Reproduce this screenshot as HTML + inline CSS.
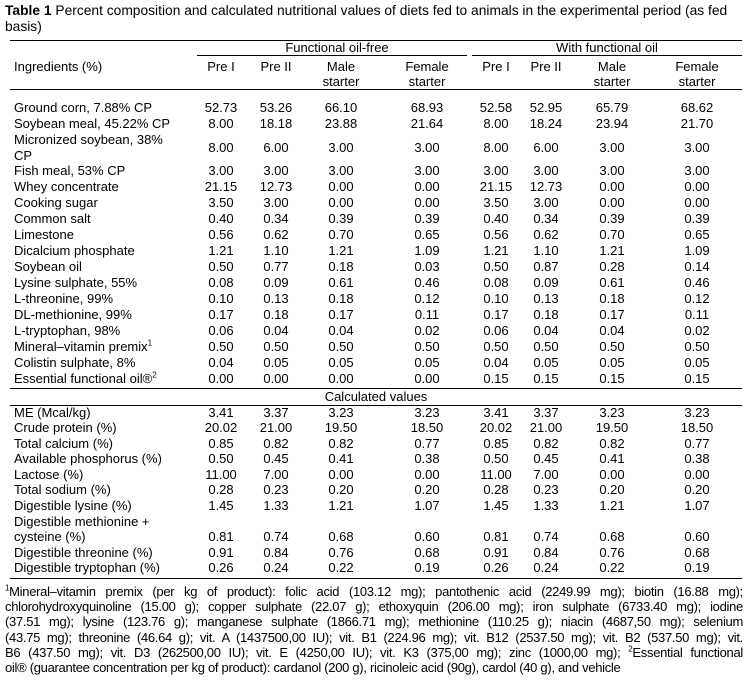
<!DOCTYPE html>
<html><head><meta charset="utf-8">
<style>
body{margin:0;width:753px;height:688px;background:#fff;font-family:"Liberation Sans",Arial,sans-serif;color:#000;position:relative;overflow:hidden}
.t{position:absolute;font-size:13px;line-height:16px;white-space:nowrap}
.c{transform:translateX(-50%);text-align:center}
.rule{position:absolute;height:1px;background:#000}
#title{position:absolute;left:5px;top:3px;width:745px;font-size:13.8px;line-height:16px}
#foot{position:absolute;left:5px;top:584px;width:738px;font-size:13px;line-height:15.2px;letter-spacing:-0.3px}
#foot div{text-align:justify;text-align-last:justify;white-space:nowrap}
#foot div.last{text-align-last:left}
sup{font-size:8px;line-height:0}
</style></head><body>
<div id="title"><b>Table 1</b> Percent composition and calculated nutritional values of diets fed to animals in the experimental period (as fed basis)</div>
<div class="rule" style="left:10px;top:40px;width:732px"></div>
<div class="rule" style="left:197px;top:55px;width:270px"></div>
<div class="rule" style="left:472px;top:55px;width:270px"></div>
<div class="rule" style="left:10px;top:89px;width:732px"></div>
<div class="rule" style="left:10px;top:388px;width:732px"></div>
<div class="rule" style="left:10px;top:405px;width:732px"></div>
<div class="rule" style="left:10px;top:578px;width:732px"></div>
<div class="t c" style="left:337px;top:40px">Functional oil-free</div>
<div class="t c" style="left:607px;top:40px">With functional oil</div>
<div class="t" style="left:14px;top:59px">Ingredients (%)</div>
<div class="t c" style="left:376px;top:389px">Calculated values</div>
<div id="foot">
<div><sup>1</sup>Mineral–vitamin premix (per kg of product): folic acid (103.12 mg); pantothenic acid (2249.99 mg); biotin (16.88 mg);</div>
<div>chlorohydroxyquinoline (15.00 g); copper sulphate (22.07 g); ethoxyquin (206.00 mg); iron sulphate (6733.40 mg); iodine</div>
<div>(37.51 mg); lysine (123.76 g); manganese sulphate (1866.71 mg); methionine (110.25 g); niacin (4687,50 mg); selenium</div>
<div>(43.75 mg); threonine (46.64 g); vit. A (1437500,00 IU); vit. B1 (224.96 mg); vit. B12 (2537.50 mg); vit. B2 (537.50 mg); vit.</div>
<div>B6 (437.50 mg); vit. D3 (262500,00 IU); vit. E (4250,00 IU); vit. K3 (375,00 mg); zinc (1000,00 mg); <sup>2</sup>Essential functional</div>
<div class="last">oil® (guarantee concentration per kg of product): cardanol (200 g), ricinoleic acid (90g), cardol (40 g), and vehicle</div>
</div>
<script>
const colX=[221,276,341,427,496,546,612,697];
const subHeaders=[["Pre I"],["Pre II"],["Male","starter"],["Female","starter"],["Pre I"],["Pre II"],["Male","starter"],["Female","starter"]];
const labels=["Ground corn, 7.88% CP","Soybean meal, 45.22% CP","Micronized soybean, 38%|CP","Fish meal, 53% CP","Whey concentrate","Cooking sugar","Common salt","Limestone","Dicalcium phosphate","Soybean oil","Lysine sulphate, 55%","L-threonine, 99%","DL-methionine, 99%","L-tryptophan, 98%","Mineral–vitamin premix¹","Colistin sulphate, 8%","Essential functional oil®²",
"ME (Mcal/kg)","Crude protein (%)","Total calcium (%)","Available phosphorus (%)","Lactose (%)","Total sodium (%)","Digestible lysine (%)","Digestible methionine +|cysteine (%)","Digestible threonine (%)","Digestible tryptophan (%)"];
const rowY=[108,124,148,171,187,203,219,235,251,267,283,299,315,331,347,363,379,413,428,444,459,475,490,506,537,553,568];
const values=[
["52.73","53.26","66.10","68.93","52.58","52.95","65.79","68.62"],
["8.00","18.18","23.88","21.64","8.00","18.24","23.94","21.70"],
["8.00","6.00","3.00","3.00","8.00","6.00","3.00","3.00"],
["3.00","3.00","3.00","3.00","3.00","3.00","3.00","3.00"],
["21.15","12.73","0.00","0.00","21.15","12.73","0.00","0.00"],
["3.50","3.00","0.00","0.00","3.50","3.00","0.00","0.00"],
["0.40","0.34","0.39","0.39","0.40","0.34","0.39","0.39"],
["0.56","0.62","0.70","0.65","0.56","0.62","0.70","0.65"],
["1.21","1.10","1.21","1.09","1.21","1.10","1.21","1.09"],
["0.50","0.77","0.18","0.03","0.50","0.87","0.28","0.14"],
["0.08","0.09","0.61","0.46","0.08","0.09","0.61","0.46"],
["0.10","0.13","0.18","0.12","0.10","0.13","0.18","0.12"],
["0.17","0.18","0.17","0.11","0.17","0.18","0.17","0.11"],
["0.06","0.04","0.04","0.02","0.06","0.04","0.04","0.02"],
["0.50","0.50","0.50","0.50","0.50","0.50","0.50","0.50"],
["0.04","0.05","0.05","0.05","0.04","0.05","0.05","0.05"],
["0.00","0.00","0.00","0.00","0.15","0.15","0.15","0.15"],
["3.41","3.37","3.23","3.23","3.41","3.37","3.23","3.23"],
["20.02","21.00","19.50","18.50","20.02","21.00","19.50","18.50"],
["0.85","0.82","0.82","0.77","0.85","0.82","0.82","0.77"],
["0.50","0.45","0.41","0.38","0.50","0.45","0.41","0.38"],
["11.00","7.00","0.00","0.00","11.00","7.00","0.00","0.00"],
["0.28","0.23","0.20","0.20","0.28","0.23","0.20","0.20"],
["1.45","1.33","1.21","1.07","1.45","1.33","1.21","1.07"],
["0.81","0.74","0.68","0.60","0.81","0.74","0.68","0.60"],
["0.91","0.84","0.76","0.68","0.91","0.84","0.76","0.68"],
["0.26","0.24","0.22","0.19","0.26","0.24","0.22","0.19"]];
function add(txt,x,y,center,name){
  const d=document.createElement('div');
  d.className='t'+(center?' c':'');
  d.style.left=x+'px';d.style.top=(y-8)+'px';
  d.innerHTML=txt;
  
  
  document.body.appendChild(d);
}
subHeaders.forEach((h,i)=>{
  add(h[0],colX[i],67,true,'column-header');
  if(h[1]) add(h[1],colX[i],82,true,'column-header');
});
labels.forEach((l,i)=>{
  const parts=l.replace('¹','<sup>1</sup>').replace('®²','®<sup>2</sup>').split('|');
  if(parts.length===2){
    add(parts[0],14,(i===2)?140:522,false,'row-label');
    add(parts[1],14,(i===2)?156:537,false,'row-label');
  } else add(parts[0],14,rowY[i],false,'row-label');
  values[i].forEach((v,j)=>add(v,colX[j],rowY[i],true,'cell-value'));
});
</script>
</body></html>
